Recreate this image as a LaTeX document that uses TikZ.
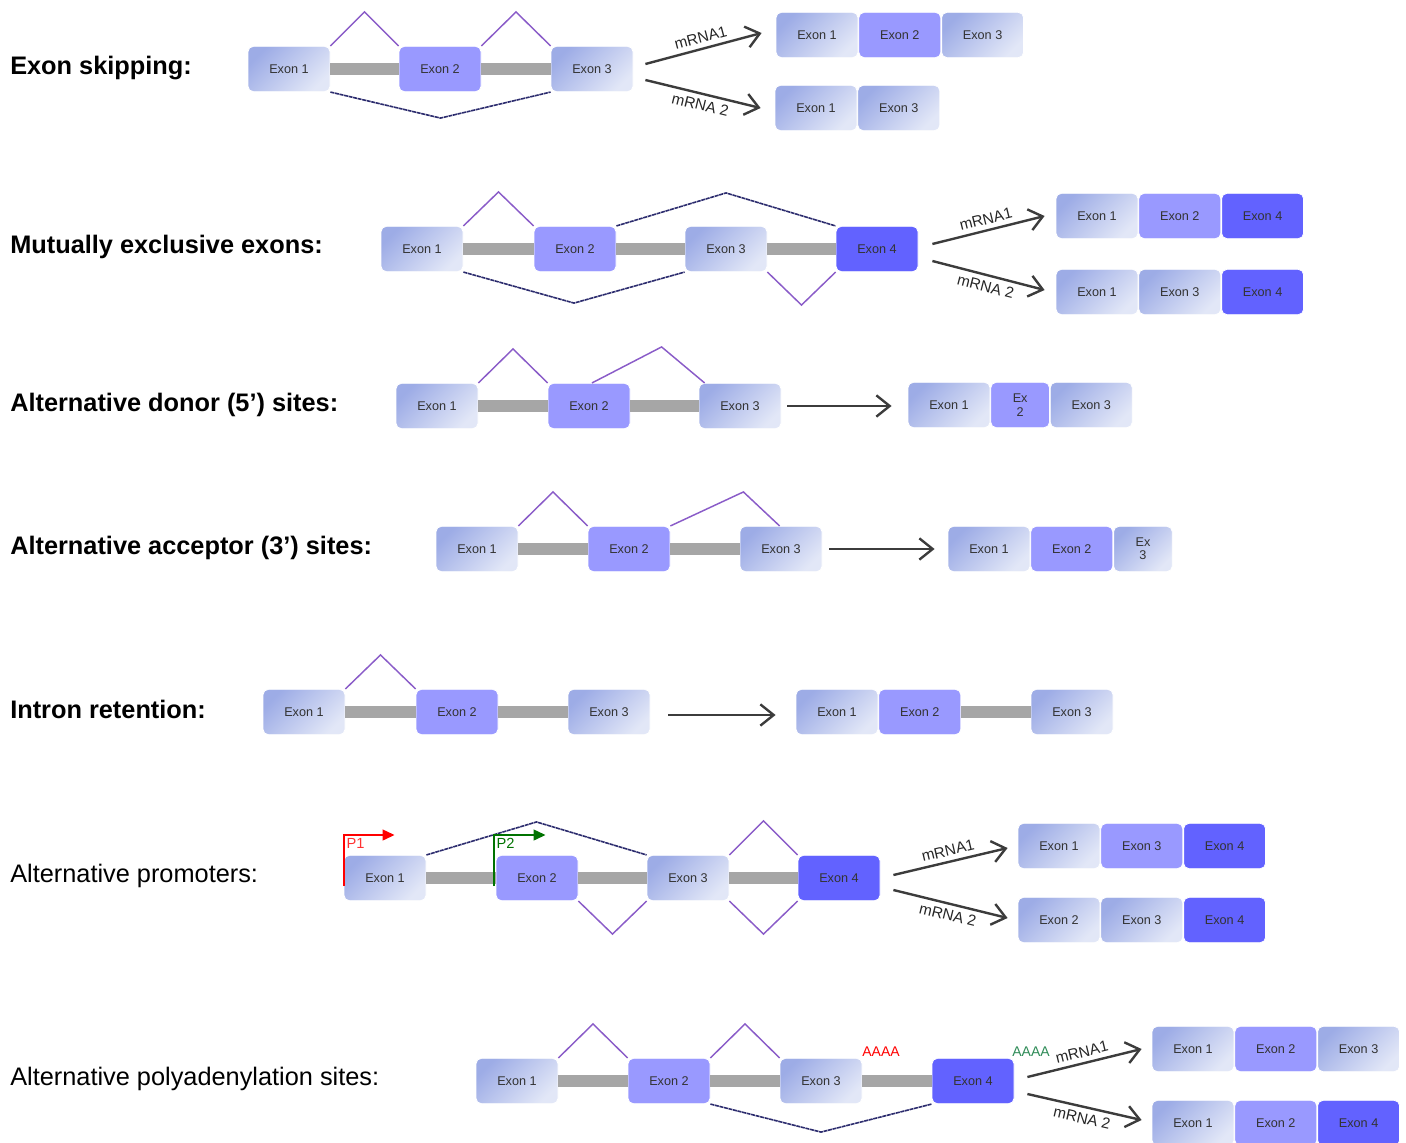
\documentclass[tikz,border=0pt]{standalone}
\usepackage{fontspec}
\setmainfont{Liberation Sans}
\usetikzlibrary{arrows.meta, positioning, calc, shapes}
\definecolor{exlo}{HTML}{9DACE6}
\definecolor{exhi}{HTML}{E2E7F7}
\definecolor{exmid}{HTML}{9999FF}
\definecolor{exdark}{HTML}{6262FF}
\definecolor{splicecol}{HTML}{8A5CC8}
\definecolor{skipcol}{HTML}{2C2C6E}
\definecolor{introncol}{HTML}{A6A6A6}
\definecolor{arrcol}{HTML}{3C3C3C}
\definecolor{polygreen}{HTML}{2E8B57}
\tikzset{
  exon/.style={rounded corners=4pt, draw=white, line width=0.6pt, minimum width=61.5pt, minimum height=34pt, inner sep=1pt, align=center, text=black!80, font=\fontsize{9.5}{10}\selectfont},
  exA/.style={exon, top color=exlo, bottom color=exhi, shading angle=45},
  exB/.style={exon, fill=exmid},
  exC/.style={exon, fill=exdark},
  lab/.style={anchor=west, inner sep=0pt, font=\fontsize{19}{22}\selectfont\bfseries},
  labr/.style={anchor=west, inner sep=0pt, font=\fontsize{19}{22}\selectfont},
  intron/.style={introncol, line width=9pt},
  splice/.style={splicecol, line width=1.1pt},
  skip/.style={skipcol, line width=1.2pt, dash pattern=on 3pt off 0.5pt},
  mrna/.style={arrcol, line width=1.8pt, -{Straight Barb[length=10pt, width=16pt]}},
  mlab/.style={font=\fontsize{11.5}{12}\selectfont, text=black!85, inner sep=3.5pt},
  prom/.style={#1, line width=1.6pt, -{Triangle[length=9pt, width=8pt]}},
  plab/.style={inner sep=1.5pt, font=\fontsize{11}{12}\selectfont},
  polyA/.style={inner sep=0pt, font=\fontsize{10.5}{11}\selectfont},
}
\begin{document}
\begin{tikzpicture}[x=0.75pt, y=-0.75pt]
  \useasboundingbox (0,0) rectangle (1406,1142);
  % row labels
  \node[lab] (t1) at (10,68) {Exon skipping:};
  \node[lab] (t2) at (10,247) {Mutually exclusive exons:};
  \node[lab] (t3) at (10,405) {Alternative donor (5’) sites:};
  \node[lab] (t4) at (10,548) {Alternative acceptor (3’) sites:};
  \node[lab] (t5) at (10,709) {Intron retention:};
  \node[labr] (t6) at (10,876) {Alternative promoters:};
  \node[labr] (t7) at (10,1079) {Alternative polyadenylation sites:};

  % exon skipping
  \node[exA] (s1) at (289,69) {Exon 1};
  \node[exB] (s2) at (440,69) {Exon 2};
  \node[exA] (s3) at (592,69) {Exon 3};
  \node[exA] (sa1) at (817,35) {Exon 1};
  \node[exB, right=0pt of sa1] (sa2) {Exon 2};
  \node[exA, right=0pt of sa2] (sa3) {Exon 3};
  \node[exA] (sb1) at (816,108) {Exon 1};
  \node[exA, right=0pt of sb1] (sb2) {Exon 3};
  \draw[skip] (s1.south east) -- ($(s1.south east)!.5!(s3.south west)+(0,26)$) -- (s3.south west);
  \draw[mrna] ([shift={(12,-5)}]s3.east) -- ([shift={(-14,-2)}]sa1.west) node[mlab, midway, above, sloped] {mRNA1};
  \draw[mrna] ([shift={(12,11)}]s3.east) -- ([shift={(-14,0)}]sb1.west) node[mlab, midway, below, sloped] {mRNA 2};

  % mutually exclusive exons
  \node[exA] (m1) at (422,249) {Exon 1};
  \node[exB] (m2) at (575,249) {Exon 2};
  \node[exA] (m3) at (726,249) {Exon 3};
  \node[exC] (m4) at (877,249) {Exon 4};
  \node[exA] (ma1) at (1097,216) {Exon 1};
  \node[exB, right=0pt of ma1] (ma2) {Exon 2};
  \node[exC, right=0pt of ma2] (ma3) {Exon 4};
  \node[exA] (mb1) at (1097,292) {Exon 1};
  \node[exA, right=0pt of mb1] (mb2) {Exon 3};
  \node[exC, right=0pt of mb2] (mb3) {Exon 4};
  \draw[skip] (m2.north east) -- ($(m2.north east)!.5!(m4.north west)+(0,-33)$) -- (m4.north west);
  \draw[skip] (m1.south east) -- ($(m1.south east)!.5!(m3.south west)+(0,31)$) -- (m3.south west);
  \draw[mrna] ([shift={(14,-5)}]m4.east) -- ([shift={(-11,0)}]ma1.west) node[mlab, midway, above, sloped] {mRNA1};
  \draw[mrna] ([shift={(14,12)}]m4.east) -- ([shift={(-11,-2)}]mb1.west) node[mlab, midway, below, sloped] {mRNA 2};

  % alternative donor
  \node[exA] (d1) at (437,406) {Exon 1};
  \node[exB] (d2) at (589,406) {Exon 2};
  \node[exA] (d3) at (740,406) {Exon 3};
  \node[exA] (da1) at (949,405) {Exon 1};
  \node[exB, minimum width=44pt, right=0pt of da1] (da2) {Ex\\2};
  \node[exA, right=0pt of da2] (da3) {Exon 3};
  \draw[splice] ([shift={(3,0)}]d2.north) -- ($(d3.north west)+(-37,-36)$) -- ([shift={(6,0)}]d3.north west);
  \draw[mrna] ([shift={(6,0)}]d3.east) -- ([shift={(-16,1)}]da1.west);

  % alternative acceptor
  \node[exA] (c1) at (477,549) {Exon 1};
  \node[exB] (c2) at (629,549) {Exon 2};
  \node[exA] (c3) at (781,549) {Exon 3};
  \node[exA] (ca1) at (989,549) {Exon 1};
  \node[exB, right=0pt of ca1] (ca2) {Exon 2};
  \node[exA, minimum width=44pt, right=0pt of ca2] (ca3) {Ex\\3};
  \draw[splice] (c2.north east) -- ($(c2.north east)+(73,-34)$) -- ([shift={(40,0)}]c3.north west);
  \draw[mrna] ([shift={(7,0)}]c3.east) -- ([shift={(-13,0)}]ca1.west);

  % intron retention
  \node[exA] (r1) at (304,712) {Exon 1};
  \node[exB] (r2) at (457,712) {Exon 2};
  \node[exA] (r3) at (609,712) {Exon 3};
  \node[exA] (ra1) at (837,712) {Exon 1};
  \node[exB, right=0pt of ra1] (ra2) {Exon 2};
  \node[exA] (ra3) at (1072,712) {Exon 3};
  \draw[mrna] ([shift={(18,3)}]r3.east) -- ([shift={(-20,3)}]ra1.west);

  % alternative promoters
  \node[exA] (p1) at (385,878) {Exon 1};
  \node[exB] (p2) at (537,878) {Exon 2};
  \node[exA] (p3) at (688,878) {Exon 3};
  \node[exC] (p4) at (839,878) {Exon 4};
  \node[exA] (pa1) at (1059,846) {Exon 1};
  \node[exB, right=0pt of pa1] (pa2) {Exon 3};
  \node[exC, right=0pt of pa2] (pa3) {Exon 4};
  \node[exA] (pb1) at (1059,920) {Exon 2};
  \node[exA, right=0pt of pb1] (pb2) {Exon 3};
  \node[exC, right=0pt of pb2] (pb3) {Exon 4};
  \draw[skip] (p1.north east) -- ($(p1.north east)!.5!(p3.north west)+(0,-33)$) -- (p3.north west);
  \draw[mrna] ([shift={(13,-3)}]p4.east) -- ([shift={(-10,2)}]pa1.west) node[mlab, midway, above, sloped] {mRNA1};
  \draw[mrna] ([shift={(13,12)}]p4.east) -- ([shift={(-10,-2)}]pb1.west) node[mlab, midway, below, sloped] {mRNA 2};

  % alternative polyadenylation
  \node[exA] (y1) at (517,1081) {Exon 1};
  \node[exB] (y2) at (669,1081) {Exon 2};
  \node[exA] (y3) at (821,1081) {Exon 3};
  \node[exC] (y4) at (973,1081) {Exon 4};
  \node[exA] (ya1) at (1193,1049) {Exon 1};
  \node[exB, right=0pt of ya1] (ya2) {Exon 2};
  \node[exA, right=0pt of ya2] (ya3) {Exon 3};
  \node[exA] (yb1) at (1193,1123) {Exon 1};
  \node[exB, right=0pt of yb1] (yb2) {Exon 2};
  \node[exC, right=0pt of yb2] (yb3) {Exon 4};
  \node[polyA, red] (a1) at (881,1052) {AAAA};
  \node[polyA, polygreen] (a2) at (1031,1052) {AAAA};
  \draw[skip] (y2.south east) -- ($(y2.south east)!.5!(y4.south west)+(0,28)$) -- (y4.south west);
  \draw[mrna] ([shift={(13,-4)}]y4.east) -- ([shift={(-10,0)}]ya1.west) node[mlab, midway, above, sloped] {mRNA1};
  \draw[mrna] ([shift={(13,13)}]y4.east) -- ([shift={(-10,-3)}]yb1.west) node[mlab, midway, below, sloped] {mRNA 2};

  % introns and splice lines
  \foreach \a/\b in {s1/s2,s2/s3,m1/m2,m2/m3,m3/m4,d1/d2,d2/d3,c1/c2,c2/c3,r1/r2,r2/r3,ra2/ra3,p1/p2,p2/p3,p3/p4,y1/y2,y2/y3,y3/y4}
    \draw[intron] (\a.east) -- (\b.west);
  \foreach \a/\b in {s1/s2,s2/s3,m1/m2,d1/d2,c1/c2,r1/r2,p3/p4,y1/y2,y2/y3}
    \draw[splice] (\a.north east) -- ($(\a.north east)!.5!(\b.north west)+(0,-34)$) -- (\b.north west);
  \foreach \a/\b in {m3/m4,p2/p3,p3/p4}
    \draw[splice] (\a.south east) -- ($(\a.south east)!.5!(\b.south west)+(0,33)$) -- (\b.south west);

  % promoters
  \draw[prom=red] ([shift={(0,8)}]p1.west) |- ++(51,-51) node[plab, pos=.5, below right, text=red!80] {P1};
  \draw[prom=green!45!black] ([shift={(-2,8)}]p2.west) |- ++(52,-51) node[plab, pos=.5, below right, text=green!45!black] {P2};
\end{tikzpicture}
\end{document}
